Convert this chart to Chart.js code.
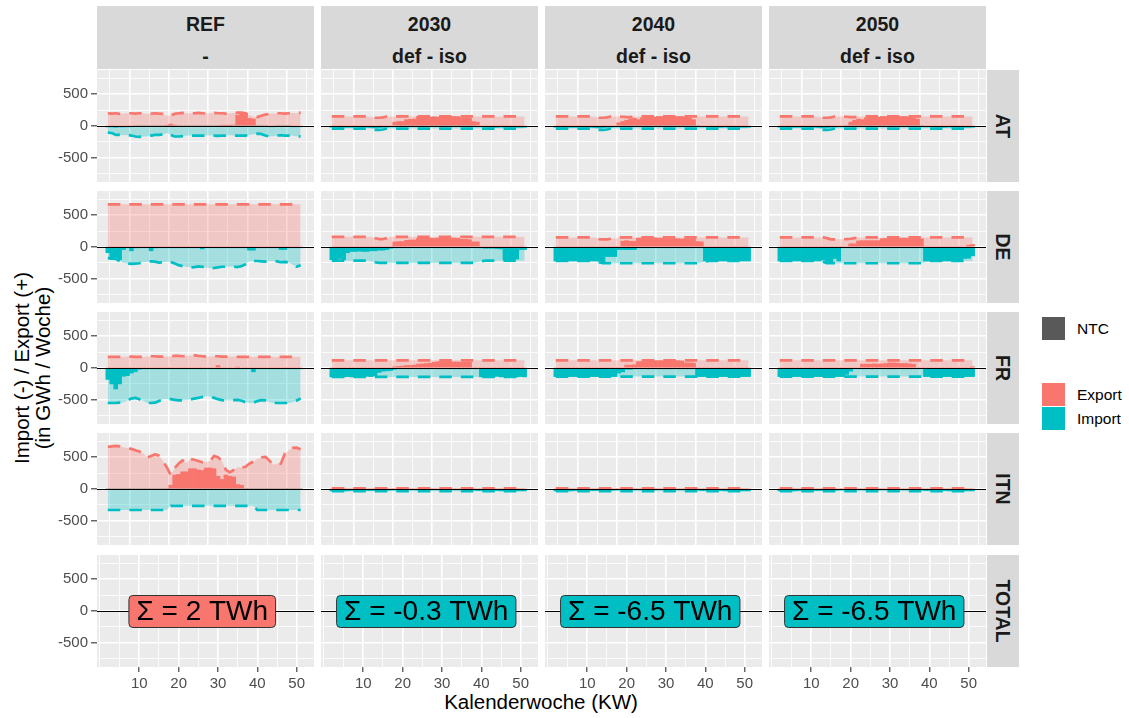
<!DOCTYPE html>
<html>
<head>
<meta charset="utf-8">
<script src="https://cdn.jsdelivr.net/npm/chart.js@4.4.1/dist/chart.umd.min.js"></script>
<style>
  body { margin: 0; background: #fff; font-family: "Liberation Sans", Arial, sans-serif; }
  #wrap { position: relative; width: 1129px; height: 718px; overflow: hidden; }
  #wrap canvas { position: absolute; }
  .strip { position: absolute; background: #d9d9d9; color: #1a1a1a; font-weight: bold; font-size: 19.5px; }
  .strip span { position: absolute; left: 0; right: 0; text-align: center; line-height: 20px; }
  .strip.side span { left: 50%; top: 50%; right: auto; transform: translate(-50%, -50%) rotate(90deg); white-space: nowrap; }
  .axis-title { position: absolute; color: #000; font-size: 20.5px; white-space: nowrap; text-align: center; }
  .key { position: absolute; width: 23px; height: 23px; }
  .key-label { position: absolute; font-size: 15.5px; color: #000; line-height: 18px; }
</style>
</head>
<body>
<div id="wrap"></div>
<script>
// Kalenderwochen (Wochen 2..51)
const weeks = [2,3,4,5,6,7,8,9,10,11, 12,13,14,15,16,17,18,19,20,21, 22,23,24,25,26,27,28,29,30,31,
               32,33,34,35,36,37,38,39,40,41, 42,43,44,45,46,47,48,49,50,51];

const scenarios = ['REF', '2030', '2040', '2050'];
const variants = ['-', 'def - iso', 'def - iso', 'def - iso'];
const regions = ['AT', 'DE', 'FR', 'ITN', 'TOTAL'];
const totalsTWh = [2, -0.3, -6.5, -6.5];
const xTicks = [10, 20, 30, 40, 50];
const xMinor = [0, 5, 15, 25, 35, 45];
const yTicks = [-500, 0, 500];
const yMinor = [-750, -250, 250, 750];
const labelWeek = 26;

// ---- AT ----
const atRefNtcExp = [200,195,200,190,195,200,200,195,200,200, 190,195,200,195,190,160,170,190,200,205,
                     200,195,200,205,200,195,200,205,200,200, 195,200,205,210,210,200,170,150,140,160,
                     180,190,195,200,200,195,200,205,200,210];
const atRefExp = [0,0,0,0,0,0,0,0,0,0, 0,0,0,0,0,10,30,10,0,0, 0,0,0,0,0,0,0,0,0,10,
                  10,10,15,170,200,190,120,110,0,0, 0,0,0,0,0,0,0,0,0,0];
const atRefImp = [-15,-15,-20,-15,-15,-10,-5,0,0,0, 0,0,0,0,0,0,0,0,0,0, 0,0,0,0,0,0,0,0,0,0,
                  0,0,0,0,0,0,0,0,0,0, 0,-5,-5,0,0,0,0,-5,-5,-5];
const atRefNtcImp = [-105,-110,-140,-140,-145,-140,-150,-165,-170,-165, -160,-150,-140,-140,-130,-110,-140,-165,-165,-160,
                     -150,-150,-150,-150,-150,-150,-150,-150,-155,-150, -150,-145,-150,-150,-150,-150,-140,-130,-120,-125,
                     -150,-165,-160,-150,-145,-150,-150,-155,-160,-165];

const at2030NtcExp = [150,150,150,150,150,150,150,150,150,150, 145,130,130,135,150,150,150,150,150,150,
                      150,150,150,150,150,150,150,150,150,150, 150,150,150,150,150,150,150,150,150,150,
                      150,150,150,150,150,150,150,150,150,150];
const at2030Exp = [0,0,0,0,0,0,0,0,0,0, 0,0,0,0,0,0,60,70,70,100, 105,110,150,150,150,140,145,140,150,150,
                   150,150,150,130,130,125,70,60,0,0, 0,0,0,0,0,0,0,0,0,0];
const at2040NtcExp = [150,150,150,150,150,150,150,150,150,150, 145,130,130,135,150,150,150,145,140,140,
                      150,150,150,150,150,150,150,150,150,150, 150,150,150,150,150,150,150,150,150,150,
                      150,150,150,150,150,150,150,150,150,150];
const at2040Exp = [0,0,0,0,0,0,0,0,0,0, 0,0,0,0,0,0,50,70,90,110, 120,100,130,150,150,140,150,150,150,150,
                   140,150,150,140,130,100,0,0,0,0, 0,0,0,0,0,0,0,0,0,0];
const at2050Exp = [0,0,0,0,0,0,0,0,0,0, 0,0,0,0,0,0,0,0,60,90, 110,100,130,150,150,140,150,150,150,150,
                   140,150,150,140,130,110,0,0,0,0, 0,0,0,0,0,0,0,0,0,0];
const atFutImp = [-20,-20,-25,-20,-20,-20,-15,-20,-20,-20, -25,-30,-25,-20,-15,-10,-5,0,0,0, 0,0,0,0,0,0,0,0,0,0,
                  0,0,0,0,0,0,0,-5,-10,-15, -20,-20,-20,-15,-20,-20,-20,-20,-20,-20];
const atFutNtcImp = [-40,-40,-40,-40,-40,-40,-40,-40,-40,-40, -45,-60,-60,-55,-40,-40,-40,-40,-40,-40,
                     -40,-40,-40,-40,-40,-40,-40,-40,-40,-40, -40,-40,-40,-40,-40,-40,-40,-40,-40,-40,
                     -40,-40,-40,-40,-40,-40,-40,-40,-40,-40];

// ---- DE ----
const deRefNtcExp = [670,670,670,670,670,670,670,670,670,670, 670,670,670,670,670,670,670,670,670,670,
                     670,670,670,670,670,670,670,670,670,670, 670,670,670,670,670,670,670,670,670,670,
                     670,670,670,670,670,670,670,670,670,670];
const deRefExp = [0,0,0,0,0,0,0,0,0,0, 0,0,0,0,0,0,0,0,0,0, 0,0,0,0,0,0,0,0,0,0,
                  0,0,0,0,0,0,0,0,0,0, 0,0,0,0,0,0,0,0,0,0];
const deRefImp = [-90,-200,-200,-200,-40,-10,-60,-15,-5,-10, -5,-60,-15,-5,-5,-5,-5,-5,-10,-5,
                  -5,-5,-5,-5,-30,-5,-5,-5,-5,-5, -5,-5,-5,-5,-5,-5,-50,-50,-10,-5,
                  -5,-5,-5,-5,-40,-40,-5,-5,-5,-10];
const deRefNtcImp = [-175,-180,-185,-220,-250,-260,-265,-260,-255,-240, -230,-225,-230,-245,-240,-230,-235,-260,-285,-300,
                     -315,-320,-315,-305,-310,-325,-335,-330,-320,-310, -310,-305,-310,-315,-300,-270,-225,-220,-220,-225,
                     -230,-220,-220,-225,-240,-235,-245,-280,-310,-285];

const de2030NtcExp = [160,160,160,160,160,160,160,160,160,160, 160,140,125,125,140,160,160,160,160,160,
                      160,160,160,160,160,160,160,160,160,160, 160,160,160,160,160,160,160,160,160,160,
                      160,160,160,160,160,160,160,160,160,160];
const de2030Exp = [0,0,0,0,0,0,0,0,0,0, 0,0,0,0,0,0,80,85,85,105, 110,110,135,140,135,140,135,140,145,140,
                   135,140,135,120,120,115,80,80,0,0, 0,0,0,0,0,0,0,0,0,0];
const de2030Imp = [-200,-210,-180,-200,-90,-70,-70,-65,-70,-70, -60,-60,-50,-50,-40,-20,-10,-5,-5,-5,
                   -5,-5,-5,-5,-5,-5,-5,-5,-5,-5, -5,-5,-5,-5,-5,-5,-5,-10,-15,-20,
                   -20,-20,-25,-30,-200,-200,-200,-190,-40,-40];
const de2030NtcImp = [-215,-215,-215,-215,-215,-215,-215,-215,-215,-215, -225,-240,-250,-250,-250,-250,-250,-250,-250,-250,
                      -250,-250,-250,-250,-250,-250,-250,-250,-250,-250, -250,-250,-250,-250,-250,-250,-250,-240,-225,-215,
                      -215,-215,-215,-215,-215,-215,-215,-215,-215,-215];

const de2040NtcExp = [150,150,150,150,150,150,150,150,150,150, 150,125,120,120,130,135,150,150,150,150,
                      150,150,150,150,150,150,150,150,150,150, 150,150,150,150,150,150,150,150,150,150,
                      150,150,150,150,150,150,150,150,150,150];
const de2040Exp = [0,0,0,0,0,0,0,0,0,0, 0,0,0,0,0,0,0,90,100,90, 90,140,140,140,140,145,140,140,145,130,
                   130,130,125,130,130,130,85,80,0,0, 0,0,0,0,0,0,0,0,0,0];
const de2040Imp = [-220,-220,-215,-220,-220,-220,-215,-220,-220,-220, -220,-220,-250,-150,-150,-150,-40,-40,-40,-40,
                   -40,-10,-10,-10,-10,-10,-10,-10,-10,-10, -10,-10,-10,-10,-10,-10,-10,-10,-220,-220,
                   -220,-220,-220,-220,-220,-220,-220,-220,-220,-220];
const de2040NtcImp = [-220,-220,-220,-220,-220,-220,-220,-220,-220,-220, -220,-240,-255,-255,-255,-255,-255,-255,-255,-255,
                      -255,-255,-255,-255,-255,-255,-255,-255,-255,-255, -255,-255,-255,-255,-255,-255,-255,-245,-225,-220,
                      -220,-220,-220,-220,-220,-220,-220,-220,-220,-220];

const de2050NtcExp = [150,150,150,150,150,150,150,150,150,150, 150,150,140,120,120,120,120,125,130,140,
                      150,150,150,150,150,150,150,150,150,150, 150,150,150,150,150,150,150,150,150,150,
                      150,150,150,150,150,150,150,150,150,150];
const de2050Exp = [0,0,0,0,0,0,0,0,0,0, 0,0,0,0,0,0,0,0,50,50, 95,100,100,100,100,100,130,135,140,140,
                   135,140,140,135,140,130,130,0,0,0, 0,0,0,0,0,0,0,0,30,40];
const de2050Imp = [-220,-220,-220,-220,-220,-220,-220,-220,-220,-220, -220,-200,-230,-250,-180,-220,-10,-10,-10,-10,
                   -10,-10,-10,-10,-10,-10,-10,-10,-10,-10, -10,-10,-10,-10,-10,-10,-10,-220,-220,-220,
                   -220,-220,-220,-220,-220,-200,-220,-180,-175,-140];
const de2050NtcImp = [-220,-220,-220,-220,-220,-220,-220,-220,-220,-220, -220,-230,-255,-255,-255,-255,-255,-255,-255,-255,
                      -255,-255,-255,-255,-255,-255,-255,-255,-255,-255, -255,-255,-255,-255,-255,-255,-255,-240,-220,-220,
                      -220,-220,-220,-220,-220,-220,-220,-220,-220,-220];

// ---- FR ----
const frRefNtcExp = [175,175,175,175,175,180,180,175,175,175, 180,185,185,180,180,180,185,190,190,185,
                     190,195,200,190,185,180,180,185,185,180, 180,180,180,175,175,175,175,175,175,175,
                     175,175,175,175,175,175,175,175,175,175];
const frRefExp = [0,0,0,0,0,0,0,0,0,0, 0,0,0,0,0,0,0,0,0,0, 0,0,0,0,0,0,0,0,40,0,
                  0,0,0,15,0,0,0,0,0,0, 0,0,0,0,0,0,0,0,0,0];
const frRefImp = [-180,-250,-330,-250,-130,-120,-80,-60,-20,-10, -5,-5,-5,-5,-5,-5,-5,-5,-5,-5,
                  -5,-5,-5,-5,-5,-5,-5,-5,-5,-5, -5,-5,-5,-5,-5,-5,-5,-60,-5,-5,
                  -5,-5,-5,-5,-5,-5,-5,-5,-5,-5];
const frRefNtcImp = [-550,-550,-550,-545,-540,-510,-480,-470,-490,-520, -550,-550,-545,-520,-495,-490,-490,-500,-510,-510,
                     -505,-495,-480,-470,-455,-445,-450,-470,-490,-505, -510,-510,-505,-500,-515,-540,-550,-545,-520,-505,
                     -510,-535,-550,-550,-550,-550,-550,-540,-510,-480];

const frFutNtcExp = [120,120,120,120,120,120,120,120,120,120, 120,120,120,120,120,120,120,120,120,120,
                     120,120,120,120,120,120,120,120,120,120, 120,120,120,120,120,120,120,120,120,120,
                     120,120,120,120,120,120,120,120,120,120];
const fr2030Exp = [0,0,0,0,0,0,0,0,0,0, 0,0,0,0,0,0,20,25,30,40, 40,45,60,65,70,75,90,100,105,100,
                   100,95,95,90,95,90,0,0,0,0, 0,0,0,0,0,0,0,0,0,0];
const fr2030Imp = [-140,-140,-130,-140,-135,-140,-130,-120,-125,-130, -135,-120,-70,-50,-45,-40,-20,-10,-10,-10,
                   -5,-5,-5,-5,-5,-5,-5,-5,-5,-5, -5,-5,-5,-5,-5,-5,-10,-10,-140,-140,
                   -135,-140,-130,-140,-140,-130,-140,-140,-135,-140];
const fr2030NtcImp = [-140,-140,-140,-140,-140,-140,-140,-140,-140,-140, -140,-140,-140,-140,-140,-140,-140,-140,-140,-140,
                      -140,-140,-140,-140,-140,-140,-140,-140,-140,-140, -140,-140,-140,-140,-140,-140,-140,-140,-140,-140,
                      -140,-140,-140,-140,-140,-140,-140,-140,-140,-140];
const fr2040Exp = [0,0,0,0,0,0,0,0,0,0, 0,0,0,0,0,0,0,0,45,45, 50,100,100,100,115,115,115,115,115,115,
                   115,115,110,80,80,75,0,0,0,0, 0,0,0,0,0,0,0,0,0,0];
const fr2040Imp = [-135,-135,-135,-135,-135,-135,-135,-135,-135,-135, -135,-135,-135,-135,-135,-135,-80,-60,-20,-20,
                   -10,-10,-10,-10,-10,-10,-10,-10,-10,-10, -10,-10,-10,-10,-10,-10,-135,-135,-135,-135,
                   -135,-135,-135,-135,-135,-135,-135,-135,-135,-135];
const fr2050Exp = [0,0,0,0,0,0,0,0,0,0, 0,0,0,0,0,0,0,0,0,0, 0,60,60,60,65,60,65,70,80,80,
                   75,70,70,65,60,0,0,0,0,0, 0,0,0,0,0,0,0,0,0,20];
const fr2050Imp = [-135,-135,-135,-135,-135,-135,-135,-135,-135,-135, -135,-135,-135,-135,-135,-135,-135,-100,-50,-10,
                   -10,-10,-10,-10,-10,-10,-10,-10,-10,-10, -10,-10,-10,-10,-10,-10,-10,-135,-135,-135,
                   -135,-135,-135,-135,-135,-135,-135,-135,-135,-135];
const frFutNtcImp = [-135,-135,-135,-135,-135,-135,-135,-135,-135,-135, -135,-135,-135,-135,-135,-135,-135,-135,-135,-135,
                     -135,-135,-135,-135,-135,-135,-135,-135,-135,-135, -135,-135,-135,-135,-135,-135,-135,-135,-135,-135,
                     -135,-135,-135,-135,-135,-135,-135,-135,-135,-135];

// ---- ITN ----
const itnRefNtcExp = [661,670,677,670,655,640,630,610,590,560, 495,520,545,525,440,340,220,330,400,450,
                      410,470,460,440,420,425,440,520,500,440, 300,260,300,345,335,350,400,430,470,495,
                      505,450,385,400,400,560,610,645,650,625];
const itnRefExp = [0,0,0,0,0,0,0,0,0,0, 0,0,0,0,0,0,60,220,230,270, 270,320,320,300,290,330,330,320,200,150,
                   220,200,190,70,60,0,0,0,0,0, 0,0,0,0,0,0,0,0,0,0];
const itnRefImp = [0,0,0,0,0,0,0,0,0,0, 0,0,0,0,0,0,0,0,0,0, 0,0,0,0,0,0,0,0,0,0,
                   0,0,0,0,0,0,0,0,0,0, 0,0,0,0,0,0,0,0,0,0];
const itnRefNtcImp = [-330,-330,-330,-330,-330,-330,-330,-330,-330,-330, -330,-330,-330,-330,-330,-330,-265,-265,-265,-265,
                      -265,-265,-265,-265,-265,-265,-265,-265,-265,-265, -265,-265,-265,-265,-265,-265,-265,-265,-330,-330,
                      -330,-330,-330,-330,-330,-330,-330,-330,-330,-330];
const itnFutNtcExp = [10,10,10,10,10,10,10,10,10,10, 10,10,10,10,10,10,10,10,10,10, 10,10,10,10,10,10,10,10,10,10,
                      10,10,10,10,10,10,10,10,10,10, 10,10,10,10,10,10,10,10,10,10];
const itnFutExp = [0,0,0,0,0,0,0,0,0,0, 0,0,0,0,0,0,0,0,0,0, 0,0,0,0,0,0,0,0,0,0,
                   0,0,0,0,0,0,0,0,0,0, 0,0,0,0,0,0,0,0,0,0];
const itnFutImp = [-30,-30,-25,-30,-30,-25,-30,-30,-25,-25, -25,-20,-20,-20,-20,-15,-10,-10,-10,-10,
                   -10,-10,-10,-10,-10,-10,-10,-10,-10,-10, -10,-10,-10,-10,-10,-10,-15,-25,-25,-30,
                   -30,-30,-25,-30,-30,-30,-25,-30,-30,-30];
const itnFutNtcImp = [-35,-35,-35,-35,-35,-35,-35,-35,-35,-35, -35,-35,-35,-35,-35,-35,-35,-35,-35,-35,
                      -35,-35,-35,-35,-35,-35,-35,-35,-35,-35, -35,-35,-35,-35,-35,-35,-35,-35,-35,-35,
                      -35,-35,-35,-35,-35,-35,-35,-35,-35,-35];

// [NTC Export, Export, Import, NTC Import] je Region und Szenario
const series = {
  AT:  { REF: [atRefNtcExp, atRefExp, atRefImp, atRefNtcImp],
         '2030': [at2030NtcExp, at2030Exp, atFutImp, atFutNtcImp],
         '2040': [at2040NtcExp, at2040Exp, atFutImp, atFutNtcImp],
         '2050': [at2040NtcExp, at2050Exp, atFutImp, atFutNtcImp] },
  DE:  { REF: [deRefNtcExp, deRefExp, deRefImp, deRefNtcImp],
         '2030': [de2030NtcExp, de2030Exp, de2030Imp, de2030NtcImp],
         '2040': [de2040NtcExp, de2040Exp, de2040Imp, de2040NtcImp],
         '2050': [de2050NtcExp, de2050Exp, de2050Imp, de2050NtcImp] },
  FR:  { REF: [frRefNtcExp, frRefExp, frRefImp, frRefNtcImp],
         '2030': [frFutNtcExp, fr2030Exp, fr2030Imp, fr2030NtcImp],
         '2040': [frFutNtcExp, fr2040Exp, fr2040Imp, frFutNtcImp],
         '2050': [frFutNtcExp, fr2050Exp, fr2050Imp, frFutNtcImp] },
  ITN: { REF: [itnRefNtcExp, itnRefExp, itnRefImp, itnRefNtcImp],
         '2030': [itnFutNtcExp, itnFutExp, itnFutImp, itnFutNtcImp],
         '2040': [itnFutNtcExp, itnFutExp, itnFutImp, itnFutNtcImp],
         '2050': [itnFutNtcExp, itnFutExp, itnFutImp, itnFutNtcImp] }
};

const RED = '#F8766D';
const TEAL = '#00BFC4';
const FONT = '"Liberation Sans", Arial, sans-serif';

// Panel-Raster
const colLeft = [97, 321, 545, 769];
const rowTop = [70, 191, 312, 433, 555];
const panelW = 217;
const panelH = 112;

const wrap = document.getElementById('wrap');

function el(cls, css, html) {
  const d = document.createElement('div');
  d.className = cls;
  Object.assign(d.style, css);
  if (html !== undefined) d.innerHTML = html;
  wrap.appendChild(d);
  return d;
}

// Facetten-Beschriftungen oben und rechts
scenarios.forEach((s, c) => {
  el('strip', { left: colLeft[c] + 'px', top: '6px', width: panelW + 'px', height: '63px' },
     '<span style="top:8px">' + s + '</span><span style="top:40px">' + variants[c] + '</span>');
});
regions.forEach((reg, r) => {
  el('strip side', { left: '987px', top: rowTop[r] + 'px', width: '32px', height: panelH + 'px' },
     '<span>' + reg + '</span>');
});

// Achsentitel
el('axis-title', { left: '97px', width: '888px', top: '690px', lineHeight: '24px' }, 'Kalenderwoche (KW)');
el('axis-title', { left: (32 - 150) + 'px', top: (368 - 21) + 'px', width: '300px', lineHeight: '21px',
                   transform: 'rotate(-90deg)' }, 'Import (-) / Export (+)<br>(in GWh / Woche)');

// Legende
el('key', { left: '1042px', top: '317px', background: '#595959' });
el('key-label', { left: '1077px', top: '320px' }, 'NTC');
el('key', { left: '1042px', top: '383px', background: RED });
el('key-label', { left: '1077px', top: '386px' }, 'Export');
el('key', { left: '1042px', top: '407px', background: TEAL });
el('key-label', { left: '1077px', top: '410px' }, 'Import');

const pts = arr => arr.map((v, i) => ({ x: weeks[i], y: v }));

function area(data, color) {
  return { type: 'line', data, fill: 'origin', backgroundColor: color, borderWidth: 0,
           pointRadius: 0, tension: 0, order: 3 };
}
function bars(data, color) {
  return { type: 'bar', data, backgroundColor: color, borderWidth: 0, grouped: false,
           barPercentage: 1, categoryPercentage: 1, order: 2 };
}
function dashed(data, color) {
  return { type: 'line', data, fill: false, borderColor: color, borderWidth: 2.7,
           borderDash: [12.5, 9], borderCapStyle: 'butt', borderJoinStyle: 'round',
           pointRadius: 0, tension: 0, order: 1 };
}

function roundRect(ctx, x, y, w, h, rad) {
  ctx.beginPath();
  ctx.moveTo(x + rad, y);
  ctx.lineTo(x + w - rad, y);
  ctx.quadraticCurveTo(x + w, y, x + w, y + rad);
  ctx.lineTo(x + w, y + h - rad);
  ctx.quadraticCurveTo(x + w, y + h, x + w - rad, y + h);
  ctx.lineTo(x + rad, y + h);
  ctx.quadraticCurveTo(x, y + h, x, y + h - rad);
  ctx.lineTo(x, y + rad);
  ctx.quadraticCurveTo(x, y, x + rad, y);
  ctx.closePath();
}

function decor(c, r) {
  return {
    id: 'decor',
    beforeDraw(chart) {
      const { ctx, chartArea: a } = chart;
      ctx.save();
      ctx.fillStyle = '#ebebeb';
      ctx.fillRect(a.left, a.top, a.right - a.left, a.bottom - a.top);
      ctx.restore();
    },
    afterDatasetsDraw(chart) {
      const { ctx, chartArea: a, scales } = chart;
      const y0 = Math.round(scales.y.getPixelForValue(0)) + 0.5;
      ctx.save();
      ctx.strokeStyle = '#000000';
      ctx.lineWidth = 1.2;
      ctx.beginPath();
      ctx.moveTo(a.left, y0);
      ctx.lineTo(a.right, y0);
      ctx.stroke();

      // Summenlabel in der TOTAL-Zeile
      if (regions[r] === 'TOTAL') {
        const v = totalsTWh[c];
        const text = 'Σ = ' + v + ' TWh';
        ctx.font = '28px ' + FONT;
        const tw = ctx.measureText(text).width;
        const cx = scales.x.getPixelForValue(labelWeek);
        const w = tw + 15, h = 32;
        roundRect(ctx, cx - w / 2, y0 - h / 2, w, h, 4);
        ctx.fillStyle = v > 0 ? RED : TEAL;
        ctx.fill();
        ctx.lineWidth = 1;
        ctx.strokeStyle = '#333333';
        ctx.stroke();
        ctx.fillStyle = '#000';
        ctx.textAlign = 'center';
        ctx.textBaseline = 'middle';
        ctx.fillText(text, cx, y0 + 1);
      }
      ctx.restore();
    }
  };
}

// Achsenmaße fixieren, keine automatische Randpolsterung
function fixBox(s, w, h) {
  if (w !== null) s.width = w;
  if (h !== null) s.height = h;
  s.paddingTop = 0; s.paddingBottom = 0; s.paddingLeft = 0; s.paddingRight = 0;
}

function makePanel(c, r) {
  const axisW = c === 0 ? 50 : 0;
  const axisH = r === 4 ? 30 : 0;
  const canvas = document.createElement('canvas');
  canvas.width = panelW + axisW;
  canvas.height = panelH + axisH;
  canvas.style.left = (colLeft[c] - axisW) + 'px';
  canvas.style.top = rowTop[r] + 'px';
  wrap.appendChild(canvas);

  const datasets = [];
  const reg = regions[r];
  if (reg !== 'TOTAL') {
    const [ntcExp, exp, imp, ntcImp] = series[reg][scenarios[c]];
    datasets.push(
      area(pts(ntcExp), 'rgba(248,118,109,0.3)'),
      area(pts(ntcImp), 'rgba(0,191,196,0.3)'),
      bars(pts(exp), RED),
      bars(pts(imp), TEAL),
      dashed(pts(ntcExp), RED),
      dashed(pts(ntcImp), TEAL)
    );
  }

  const isMajorX = v => xTicks.includes(v);
  const isMajorY = v => yTicks.includes(v);

  new Chart(canvas, {
    type: 'line',
    data: { datasets },
    options: {
      responsive: false,
      animation: false,
      events: [],
      layout: { padding: 0 },
      plugins: { legend: { display: false }, tooltip: { enabled: false } },
      scales: {
        x: {
          type: 'linear', min: -0.75, max: 54.4, offset: false,
          afterBuildTicks: s => { s.ticks = xMinor.concat(xTicks).sort((a, b) => a - b).map(v => ({ value: v })); },
          afterFit: s => fixBox(s, null, axisH),
          border: { display: false },
          grid: {
            color: '#ffffff',
            lineWidth: ctx => (ctx.tick && isMajorX(ctx.tick.value)) ? 1.6 : 0.8,
            drawTicks: r === 4, tickLength: 5, tickWidth: 1.1,
            tickColor: ctx => (ctx.tick && isMajorX(ctx.tick.value)) ? '#333333' : 'rgba(0,0,0,0)'
          },
          ticks: {
            display: r === 4, autoSkip: false, maxRotation: 0, padding: 3,
            color: '#4d4d4d', font: { family: FONT, size: 15 },
            callback: v => isMajorX(v) ? String(v) : ''
          }
        },
        y: {
          type: 'linear', min: -880, max: 880,
          afterBuildTicks: s => { s.ticks = yMinor.concat(yTicks).sort((a, b) => a - b).map(v => ({ value: v })); },
          afterFit: s => fixBox(s, axisW, null),
          border: { display: false },
          grid: {
            color: '#ffffff',
            lineWidth: ctx => (ctx.tick && isMajorY(ctx.tick.value)) ? 1.6 : 0.8,
            drawTicks: c === 0, tickLength: 6, tickWidth: 1.1,
            tickColor: ctx => (ctx.tick && isMajorY(ctx.tick.value)) ? '#333333' : 'rgba(0,0,0,0)'
          },
          ticks: {
            display: c === 0, autoSkip: false, padding: 3,
            color: '#4d4d4d', font: { family: FONT, size: 15 },
            callback: v => isMajorY(v) ? String(v) : ''
          }
        }
      }
    },
    plugins: [decor(c, r)]
  });
}

for (let r = 0; r < regions.length; r++) {
  for (let c = 0; c < scenarios.length; c++) makePanel(c, r);
}
</script>
</body>
</html>
